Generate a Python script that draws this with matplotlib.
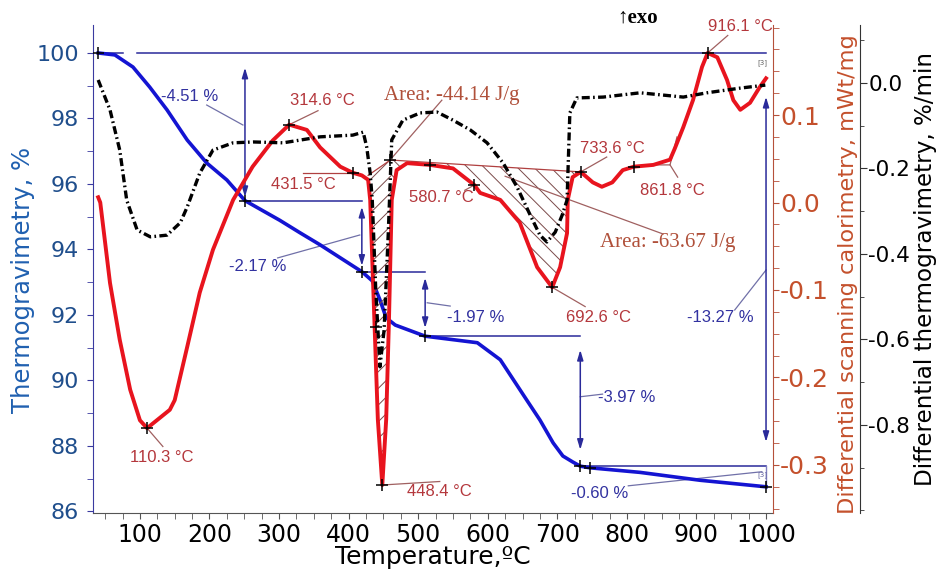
import numpy as np
import matplotlib.pyplot as plt
from matplotlib.ticker import MultipleLocator, FormatStrFormatter

plt.rcParams['axes.unicode_minus'] = False
plt.rcParams['font.family'] = ['DejaVu Sans']
plt.rcParams['hatch.linewidth'] = 0.7

# --- TG curve (%)
temp_tg = [40, 64, 90, 114, 139, 168, 196, 225, 251, 301, 330, 359, 419, 434, 445,
           454, 467, 510, 585, 618, 656, 675, 694, 708, 722, 733, 747, 819, 905, 1000]
tg = [100.0, 99.94, 99.57, 98.96, 98.26, 97.34, 96.64, 96.12, 95.49, 94.89, 94.51,
      94.14, 93.32, 93.04, 92.46, 91.91, 91.69, 91.35, 91.15, 90.63, 89.40, 88.79,
      88.09, 87.69, 87.51, 87.38, 87.33, 87.19, 86.95, 86.75]

# --- DSC curve (mWt/mg)
temp_dsc = [40, 43, 57, 71, 86, 100, 110.3, 129, 143, 150, 168, 186, 205, 234, 262,
            291, 314.6, 340, 359, 388, 406, 419, 428, 431, 436, 442, 448.4, 454, 458,
            462, 469, 484, 517, 550, 580.7, 589, 618, 646, 671, 692.6, 704, 714, 715,
            722, 733.6, 751, 764, 779, 794, 810, 838, 862, 869, 881, 895, 908, 916.1,
            930, 944, 953, 963, 977, 991, 1000]
dsc = [0.006, 0.0, -0.092, -0.157, -0.214, -0.249, -0.258, -0.246, -0.237, -0.226,
       -0.165, -0.103, -0.054, 0.003, 0.041, 0.071, 0.089, 0.083, 0.063, 0.041, 0.034,
       0.031, 0.026, 0.003, -0.111, -0.248, -0.323, -0.248, -0.134, 0.003, 0.037,
       0.045, 0.043, 0.039, 0.020, 0.011, 0.003, -0.023, -0.074, -0.097, -0.074,
       -0.035, 0.003, 0.029, 0.035, 0.023, 0.018, 0.023, 0.037, 0.041, 0.043, 0.049,
       0.062, 0.086, 0.117, 0.155, 0.171, 0.166, 0.140, 0.117, 0.106, 0.114, 0.132,
       0.142]

# --- DTG curve (%/min)
temp_dtg = [40, 57, 71, 81, 96, 115, 139, 158, 168, 186, 205, 234, 263, 306, 359,
            406, 421, 426, 431, 434, 439, 445, 451, 457, 462, 478, 503, 527, 550, 575,
            599, 622, 642, 661, 675, 685, 697, 707, 714, 718, 728, 766, 819, 881, 915,
            963, 999]
dtg = [0.007, -0.063, -0.157, -0.274, -0.344, -0.360, -0.356, -0.327, -0.290,
       -0.211, -0.157, -0.140, -0.138, -0.140, -0.126, -0.122, -0.115, -0.150,
       -0.211, -0.274, -0.484, -0.664, -0.578, -0.351, -0.133, -0.087, -0.070,
       -0.068, -0.087, -0.110, -0.140, -0.187, -0.243, -0.309, -0.356, -0.372,
       -0.349, -0.309, -0.274, -0.070, -0.035, -0.033, -0.023, -0.033, -0.023,
       -0.012, -0.005]

# mass loss steps
step_temp = [251, 419, 510, 733, 1000]
step_top = [99.55, 95.30, 93.13, 90.93, 98.66]
step_bottom = [95.60, 93.50, 91.60, 87.88, 88.12]
step_levels = [95.49, 93.32, 91.35, 87.38]

# DSC peak labels
peak_t = [110.3, 314.6, 448.4, 580.7, 692.6, 733.6, 916.1]
peak_v = [-0.258, 0.089, -0.323, 0.020, -0.097, 0.035, 0.171]
peak_tx = [132, 362, 531, 534, 759, 779, 963]
peak_ty = [-0.291, 0.117, -0.331, 0.006, -0.132, 0.062, 0.201]
peak_lx = [133, 356, 531, 567, 740, 771, 945]
peak_ly = [-0.279, 0.105, -0.319, 0.014, -0.119, 0.052, 0.191]

tg_col = '#1414d2'
dsc_col = '#e8141e'
ann_blue = '#3232a0'
ann_red = '#b4373c'
axis_red = '#c4502c'

fig = plt.figure(figsize=(9.39, 5.74), dpi=100)
ax = fig.add_axes([0.099, 0.1063, 0.7242, 0.8502])
ax2 = ax.twinx()
ax3 = ax.twinx()

# TG
ax.plot(temp_tg, tg, color=tg_col, lw=2.6, zorder=3)
ax.set_xlim(32.5, 1010)
ax.set_ylim(85.95, 100.855)

# reference line at 100 % and step lines
ax.plot([40, 76], [100, 100], color='#2a2a9a', lw=1.1)
ax.plot([96, 1000], [100, 100], color='#2a2a9a', lw=1.1)
for i in range(4):
    ax.plot([step_temp[i], step_temp[i + 1] if i < 3 else 1000],
            [step_levels[i], step_levels[i]], color='#2a2a9a', lw=1.1)
ax.plot([1000, 1000], [87.38, 86.8], color='#8080c0', lw=1.0)
for i in range(5):
    ax.annotate('', xy=(step_temp[i], step_bottom[i]), xytext=(step_temp[i], step_top[i]),
                arrowprops=dict(arrowstyle='<|-|>,head_length=0.6,head_width=0.18',
                                color='#2a2a9a', lw=1.1, shrinkA=0, shrinkB=0))

# step labels and leaders
tg_labels = ['-4.51 %', '-2.17 %', '-1.97 %', '-3.97 %', '-0.60 %', '-13.27 %']
tg_lab_t = [172, 270, 582, 800, 761, 934]
tg_lab_v = [98.66, 93.47, 91.91, 89.47, 86.56, 91.91]
tg_lead = [[(196, 98.41), (248, 97.80)], [(298, 93.74), (416, 94.44)],
           [(513, 92.37), (546, 92.27)], [(733, 89.50), (765, 89.58)],
           [(802, 86.78), (994, 87.21)], [(955, 92.15), (1000, 93.37)]]
for lab, x, y, ld in zip(tg_labels, tg_lab_t, tg_lab_v, tg_lead):
    ax.text(x, y, lab, color=ann_blue, fontsize=12, family='Liberation Sans',
            ha='center', va='center')
    ax.plot([ld[0][0], ld[1][0]], [ld[0][1], ld[1][1]], color='#7070a8', lw=0.9)

ax.plot([40, 251, 419, 510, 733, 747, 1000],
        [100, 95.49, 93.32, 91.35, 87.38, 87.33, 86.75],
        ls='none', marker='+', ms=8, mew=1.1, color='k', zorder=5)
ax.text(995, 87.13, '[3]', fontsize=5, color='#6060a0', ha='center', va='center')

# DSC
ax2.plot(temp_dsc, dsc, color=dsc_col, lw=2.8, zorder=3)
ax2.set_ylim(-0.355, 0.203)

t_arr = np.array(temp_dsc)
d_arr = np.array(dsc)
base_t = [428, 460, 733.6]
base_v = [0.031, 0.0486, 0.035]
ax2.plot(base_t, base_v, color='#b04040', lw=0.9)
ax2.plot([335, 406], [0.034, 0.034], color='#b04040', lw=0.9)
m1 = (t_arr >= 428) & (t_arr <= 462)
ax2.fill_between(t_arr[m1], np.interp(t_arr[m1], base_t, base_v), d_arr[m1],
                 facecolor='none', edgecolor='#7a4a4a', hatch='//', lw=0)
m2 = (t_arr >= 458) & (t_arr <= 733.6)
b2 = np.interp(t_arr[m2], base_t, base_v)
ax2.fill_between(t_arr[m2], b2, d_arr[m2], where=d_arr[m2] < b2, interpolate=True,
                 facecolor='none', edgecolor='#7a4a4a', hatch='\\\\', lw=0)

peak_labels = ['110.3 °C', '314.6 °C', '448.4 °C', '580.7 °C', '692.6 °C',
               '733.6 °C', '916.1 °C']
for i, lab in enumerate(peak_labels):
    ax2.text(peak_tx[i], peak_ty[i], lab, color=ann_red, fontsize=12,
             family='Liberation Sans', ha='center', va='center')
    ax2.plot([peak_t[i], peak_lx[i]], [peak_v[i], peak_ly[i]], color='#a06060', lw=0.9)
ax2.text(335, 0.021, '431.5 °C', color=ann_red, fontsize=12, family='Liberation Sans',
         ha='center', va='center')
ax2.text(865, 0.014, '861.8 °C', color=ann_red, fontsize=12, family='Liberation Sans',
         ha='center', va='center')
ax2.plot([840, 862, 872], [0.043, 0.043, 0.075], color='#a06060', lw=0.9)
ax2.plot([862, 873], [0.043, 0.029], color='#a06060', lw=0.9)

ax2.text(548, 0.122, 'Area: -44.14 J/g', color='#b0503a', fontsize=15,
         family='Liberation Serif', ha='center', va='center')
ax2.plot([460, 534], [0.049, 0.117], color='#a06060', lw=0.9)
ax2.text(858, -0.046, 'Area: -63.67 J/g', color='#b0503a', fontsize=15,
         family='Liberation Serif', ha='center', va='center')
ax2.plot([852, 625], [-0.036, 0.030], color='#a06060', lw=0.9)

ax2.plot(peak_t + [406, 460, 517, 810],
         peak_v + [0.034, 0.0486, 0.043, 0.041],
         ls='none', marker='+', ms=8, mew=1.1, color='k', zorder=5)
ax2.text(995, 0.160, '[3]', fontsize=5, color='#606060', ha='center', va='center')

# DTG
ax3.plot(temp_dtg, dtg, color='k', lw=2.4, ls=(0, (2.4, 1.0, 0.5, 1.0)), zorder=3)
ax3.plot([440], [-0.57], ls='none', marker='+', ms=8, mew=1.1, color='k')
ax3.set_ylim(-1.006, 0.1357)

# axes styling
for s in ['top', 'right']:
    ax.spines[s].set_visible(False)
ax.spines['left'].set_color('#3a3aa0')
ax.spines['bottom'].set_color('#555555')
for s in ['top', 'left', 'bottom']:
    ax2.spines[s].set_visible(False)
    ax3.spines[s].set_visible(False)
ax2.spines['right'].set_color('#b5503a')
ax3.spines['right'].set_position(('axes', 1.128))
ax3.spines['right'].set_color('#333333')

ax.xaxis.set_major_locator(MultipleLocator(100))
ax.xaxis.set_minor_locator(MultipleLocator(25))
ax.yaxis.set_major_locator(MultipleLocator(2))
ax.yaxis.set_minor_locator(MultipleLocator(1))
ax.tick_params(axis='x', which='both', direction='out', length=4, color='#555555',
               labelsize=17, pad=3)
ax.tick_params(axis='y', which='both', direction='out', length=4, color='#3a3aa0',
               labelsize=16, labelcolor='#1f4e8c', pad=6)
ax.set_xticks(range(100, 1001, 100))

ax2.yaxis.set_minor_locator(MultipleLocator(0.025))
ax2.set_yticks([-0.3, -0.2, -0.1, 0.0, 0.1])
ax2.yaxis.set_major_formatter(FormatStrFormatter('%.1f'))
ax2.tick_params(axis='y', which='both', direction='out', length=4, color='#b5503a',
                labelsize=18, labelcolor=axis_red, pad=1)

ax3.yaxis.set_minor_locator(MultipleLocator(0.1))
ax3.set_yticks([-0.8, -0.6, -0.4, -0.2, 0.0])
ax3.yaxis.set_major_formatter(FormatStrFormatter('%.1f'))
ax3.tick_params(axis='y', which='major', direction='out', length=5, color='#333333',
                labelsize=15.5, labelcolor='k', pad=1)
ax3.tick_params(axis='y', which='minor', direction='out', length=3, color='#333333')

ax.set_xlabel('Temperature,ºC', fontsize=18, va='center')
ax.xaxis.set_label_coords(0.5, -0.090)
ax.set_ylabel('Thermogravimetry, %', fontsize=17.5, color='#2060b0',
              va='center', ha='center')
ax.yaxis.set_label_coords(-0.103, 0.477)
ax2.set_ylabel('Differential scanning calorimetry, mWt/mg', fontsize=16.2,
               color=axis_red, va='center', ha='center')
ax2.yaxis.set_label_coords(1.110, 0.49)
ax3.set_ylabel('Differential thermogravimetry, %/min', fontsize=16.6, color='k',
               va='center', ha='center')
ax3.yaxis.set_label_coords(1.224, 0.50)

fig.text(617 / 939, 1 - 18 / 574, '↑exo', fontsize=15, fontweight='bold',
         family=['Liberation Serif', 'DejaVu Serif'], ha='left', va='center')

fig.savefig('out.png', dpi=100)
